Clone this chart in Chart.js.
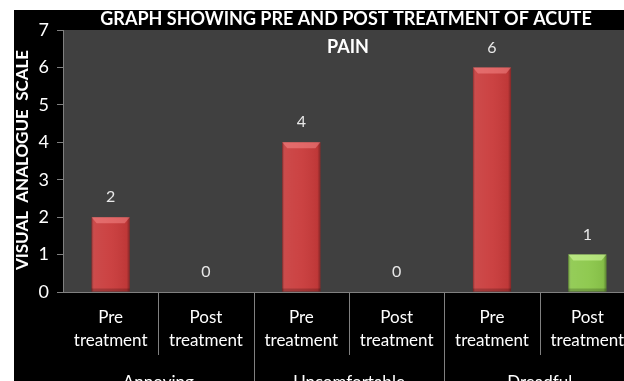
<!DOCTYPE html>
<html>
<head>
<meta charset="utf-8">
<script src="https://cdn.jsdelivr.net/npm/chart.js@4"></script>
<style>
    html, body { margin: 0; padding: 0; background: #ffffff; overflow: hidden; width: 624px; height: 381px; }
    #wrap { position: absolute; left: 14px; top: 10px; width: 621px; height: 371px; }
</style>
</head>
<body>
<div id="wrap"><canvas id="painChart"></canvas></div>
<script>
// Dati del grafico
const labels = [['Pre', 'treatment'], ['Post', 'treatment'], ['Pre', 'treatment'], ['Post', 'treatment'], ['Pre', 'treatment'], ['Post', 'treatment']];
const groups = ['Annoying', 'Uncomfortable', 'Dreadful'];
const values = [2, 0, 4, 0, 6, 1];
const barColors = ['#c93b3b', '#c93b3b', '#c93b3b', '#c93b3b', '#c93b3b', '#8cc84b'];
const yTicks = [0, 1, 2, 3, 4, 5, 6, 7];

const FONT = 'Lato, "Open Sans", sans-serif';

// Sfondo nero + area grafico grigia
const backgroundPlugin = {
    id: 'background',
    beforeDraw(chart) {
        const { ctx, chartArea } = chart;
        ctx.save();
        ctx.fillStyle = '#000000';
        ctx.fillRect(0, 0, chart.width, chart.height);
        ctx.fillStyle = '#404040';
        ctx.fillRect(chartArea.left, chartArea.top, chartArea.right - chartArea.left, chartArea.bottom - chartArea.top);
        ctx.restore();
    }
};

// Effetto 3D sulle barre
const bevelPlugin = {
    id: 'bevel',
    afterDatasetsDraw(chart) {
        const { ctx } = chart;
        const meta = chart.getDatasetMeta(0);
        meta.data.forEach((bar, i) => {
            const h = bar.base - bar.y;
            if (h <= 0) return;
            const l = bar.x - bar.width / 2, r = bar.x + bar.width / 2;
            const green = i === 5;
            ctx.save();
            const g = ctx.createLinearGradient(l, 0, r, 0);
            g.addColorStop(0, 'rgba(0,0,0,0.3)');
            g.addColorStop(0.08, 'rgba(255,255,255,0.08)');
            g.addColorStop(0.5, 'rgba(255,255,255,0.04)');
            g.addColorStop(0.92, 'rgba(0,0,0,0.05)');
            g.addColorStop(1, 'rgba(0,0,0,0.35)');
            ctx.fillStyle = g;
            ctx.fillRect(l, bar.y, r - l, h);
            // bevel superiore
            ctx.fillStyle = green ? 'rgba(220,255,170,0.5)' : 'rgba(255,150,150,0.45)';
            ctx.beginPath();
            ctx.moveTo(l, bar.y);
            ctx.lineTo(r, bar.y);
            ctx.lineTo(r - 5, bar.y + 6);
            ctx.lineTo(l + 5, bar.y + 6);
            ctx.closePath();
            ctx.fill();
            // ombra in basso
            ctx.fillStyle = 'rgba(0,0,0,0.2)';
            ctx.fillRect(l, bar.base - 3, r - l, 3);
            ctx.restore();
        });
    }
};

// Etichette valori, titolo, separatori
const textPlugin = {
    id: 'texts',
    afterDraw(chart) {
        const { ctx, chartArea } = chart;
        const xs = chart.scales.x;
        const meta = chart.getDatasetMeta(0);
        ctx.save();
        // valori sopra le barre
        ctx.fillStyle = '#e8e8e8';
        ctx.font = '16px ' + FONT;
        ctx.textAlign = 'center';
        ctx.textBaseline = 'middle';
        meta.data.forEach((bar, i) => {
            ctx.fillText(String(values[i]), bar.x, bar.y - 20);
        });
        // titolo
        ctx.fillStyle = '#ffffff';
        ctx.font = 'bold 18px ' + FONT;
        ctx.fillText('GRAPH SHOWING PRE AND POST TREATMENT OF ACUTE', 332, 9);
        ctx.fillText('PAIN', 334, 37);
        // titolo asse Y
        ctx.translate(9, 150);
        ctx.rotate(-Math.PI / 2);
        ctx.font = 'bold 17px ' + FONT;
        ctx.fillText('VISUAL  ANALOGUE  SCALE', 0, 0);
        ctx.setTransform(1, 0, 0, 1, 0, 0);
        // separatori categorie
        ctx.strokeStyle = '#808080';
        ctx.lineWidth = 1;
        for (let i = 1; i < labels.length; i++) {
            const x = Math.round((xs.getPixelForValue(i - 1) + xs.getPixelForValue(i)) / 2) + 0.5;
            ctx.beginPath();
            ctx.moveTo(x, chartArea.bottom);
            ctx.lineTo(x, i % 2 === 0 ? chart.height : chartArea.bottom + 63);
            ctx.stroke();
        }
        ctx.restore();
    }
};

const ctx = document.getElementById('painChart').getContext('2d');
const painChart = new Chart(ctx, {
    type: 'bar',
    data: {
        labels: labels,
        datasets: [{
            data: values,
            backgroundColor: barColors,
            borderWidth: 0,
            barPercentage: 0.4,
            categoryPercentage: 1
        }]
    },
    options: {
        responsive: true,
        maintainAspectRatio: false,
        animation: false,
        layout: { padding: { top: 20, left: 0, right: 0, bottom: 0 } },
        scales: {
            y: {
                min: 0,
                max: 7,
                afterBuildTicks: (scale) => { scale.ticks = yTicks.map(v => ({ value: v })); },
                afterFit: (scale) => { scale.width = 49; },
                grid: { drawOnChartArea: false, tickLength: 6, color: '#808080' },
                border: { color: '#808080' },
                ticks: { color: '#ffffff', padding: 8, font: { size: 18, family: FONT } }
            },
            x: {
                weight: 0,
                afterFit: (scale) => { scale.height = 60; },
                grid: { display: false },
                border: { color: '#808080' },
                ticks: { color: '#ffffff', padding: 6, maxRotation: 0, autoSkip: false, font: { size: 17, family: FONT, lineHeight: 1.35 } }
            },
            x2: {
                type: 'category',
                labels: groups,
                position: 'bottom',
                weight: 1,
                afterFit: (scale) => { scale.height = 29; },
                grid: { display: false, drawTicks: false },
                border: { display: false },
                ticks: { color: '#ffffff', padding: 20, maxRotation: 0, font: { size: 17, family: FONT } }
            }
        },
        plugins: {
            legend: { display: false },
            tooltip: { enabled: false }
        }
    },
    plugins: [backgroundPlugin, bevelPlugin, textPlugin]
});
</script>
</body>
</html>
